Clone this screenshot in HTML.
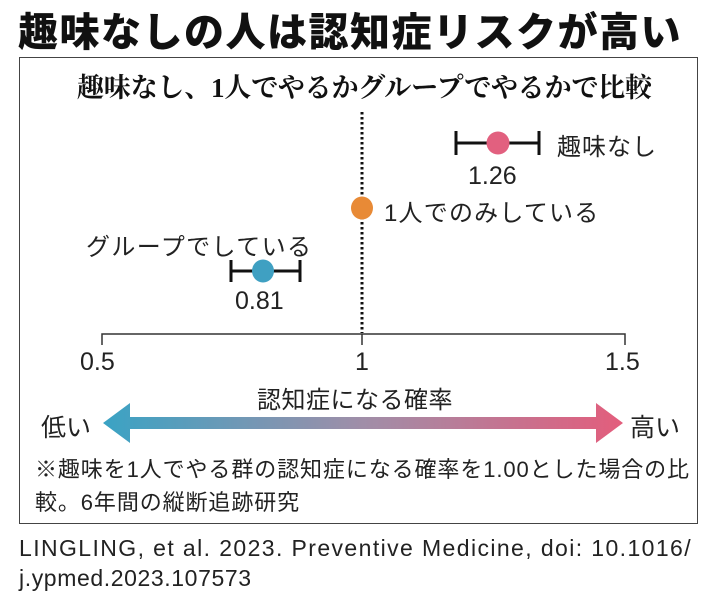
<!DOCTYPE html>
<html><head><meta charset="utf-8"><style>
body{margin:0;width:710px;height:596px;background:#fff;overflow:hidden;font-family:"Liberation Sans","Noto Sans CJK JP",sans-serif;color:#222}
.t{position:absolute;white-space:nowrap}
</style></head><body>
<div class="t" style="left:18px;top:0px;font-size:40px;font-weight:900;letter-spacing:1.5px;color:#111">趣味なしの人は認知症リスクが高い</div>
<div style="position:absolute;left:19px;top:57px;width:677px;height:465px;border:1.5px solid #444"></div>
<div class="t" style="left:77px;top:66px;font-size:27px;font-weight:bold;font-family:'Liberation Serif','Noto Serif CJK SC',serif;color:#111;letter-spacing:-0.2px">趣味なし、1人でやるかグループでやるかで比較</div>
<svg width="710" height="596" style="position:absolute;left:0;top:0">
<defs><linearGradient id="g" x1="0" x2="1"><stop offset="0" stop-color="#3aa3c4"/><stop offset="0.5" stop-color="#a08ea8"/><stop offset="1" stop-color="#e35d7c"/></linearGradient></defs>
<line x1="362" y1="112" x2="362" y2="333" stroke="#111" stroke-width="3" stroke-dasharray="2.5,2.5"/>
<path d="M102 345V334H625V345M362 334V345" fill="none" stroke="#333" stroke-width="1.5"/>
<path d="M456 143H539M456 131V155M539 131V155" stroke="#111" stroke-width="3" fill="none"/>
<ellipse cx="498" cy="143" rx="11.5" ry="11.5" fill="#e2607f"/>
<ellipse cx="362" cy="208" rx="11" ry="11.5" fill="#e88a36"/>
<path d="M231 271H300M231 260V282M300 260V282" stroke="#111" stroke-width="3" fill="none"/>
<ellipse cx="263" cy="271" rx="11" ry="11.5" fill="#3fa0c2"/>
<path d="M103 423L130 403V417H596V403L623 423L596 443V429H130V443Z" fill="url(#g)"/>
</svg>
<div class="t" style="left:557px;top:127px;font-size:24px;letter-spacing:1px">趣味なし</div>
<div class="t" style="left:468px;top:162px;font-size:25px">1.26</div>
<div class="t" style="left:384px;top:193px;font-size:24px;letter-spacing:1.2px">1人でのみしている</div>
<div class="t" style="left:86px;top:227px;font-size:24px;letter-spacing:1.4px">グループでしている</div>
<div class="t" style="left:235px;top:287px;font-size:25px">0.81</div>
<div class="t" style="left:80px;top:348px;font-size:25px">0.5</div>
<div class="t" style="left:355px;top:348px;font-size:25px">1</div>
<div class="t" style="left:605px;top:348px;font-size:25px">1.5</div>
<div class="t" style="left:257px;top:380px;font-size:24px;letter-spacing:0.5px">認知症になる確率</div>
<div class="t" style="left:41px;top:408px;font-size:25px">低い</div>
<div class="t" style="left:630px;top:408px;font-size:25px">高い</div>
<div class="t" style="left:35px;top:452px;font-size:22px;letter-spacing:0.9px">※趣味を1人でやる群の認知症になる確率を1.00とした場合の比</div>
<div class="t" style="left:35px;top:485px;font-size:22px;letter-spacing:0.9px">較。6年間の縦断追跡研究</div>
<div class="t" style="left:19px;top:535px;font-size:23px;letter-spacing:1.4px">LINGLING, et al. 2023. Preventive Medicine, doi: 10.1016/</div>
<div class="t" style="left:19px;top:565px;font-size:23px;letter-spacing:0.6px">j.ypmed.2023.107573</div>
</body></html>
